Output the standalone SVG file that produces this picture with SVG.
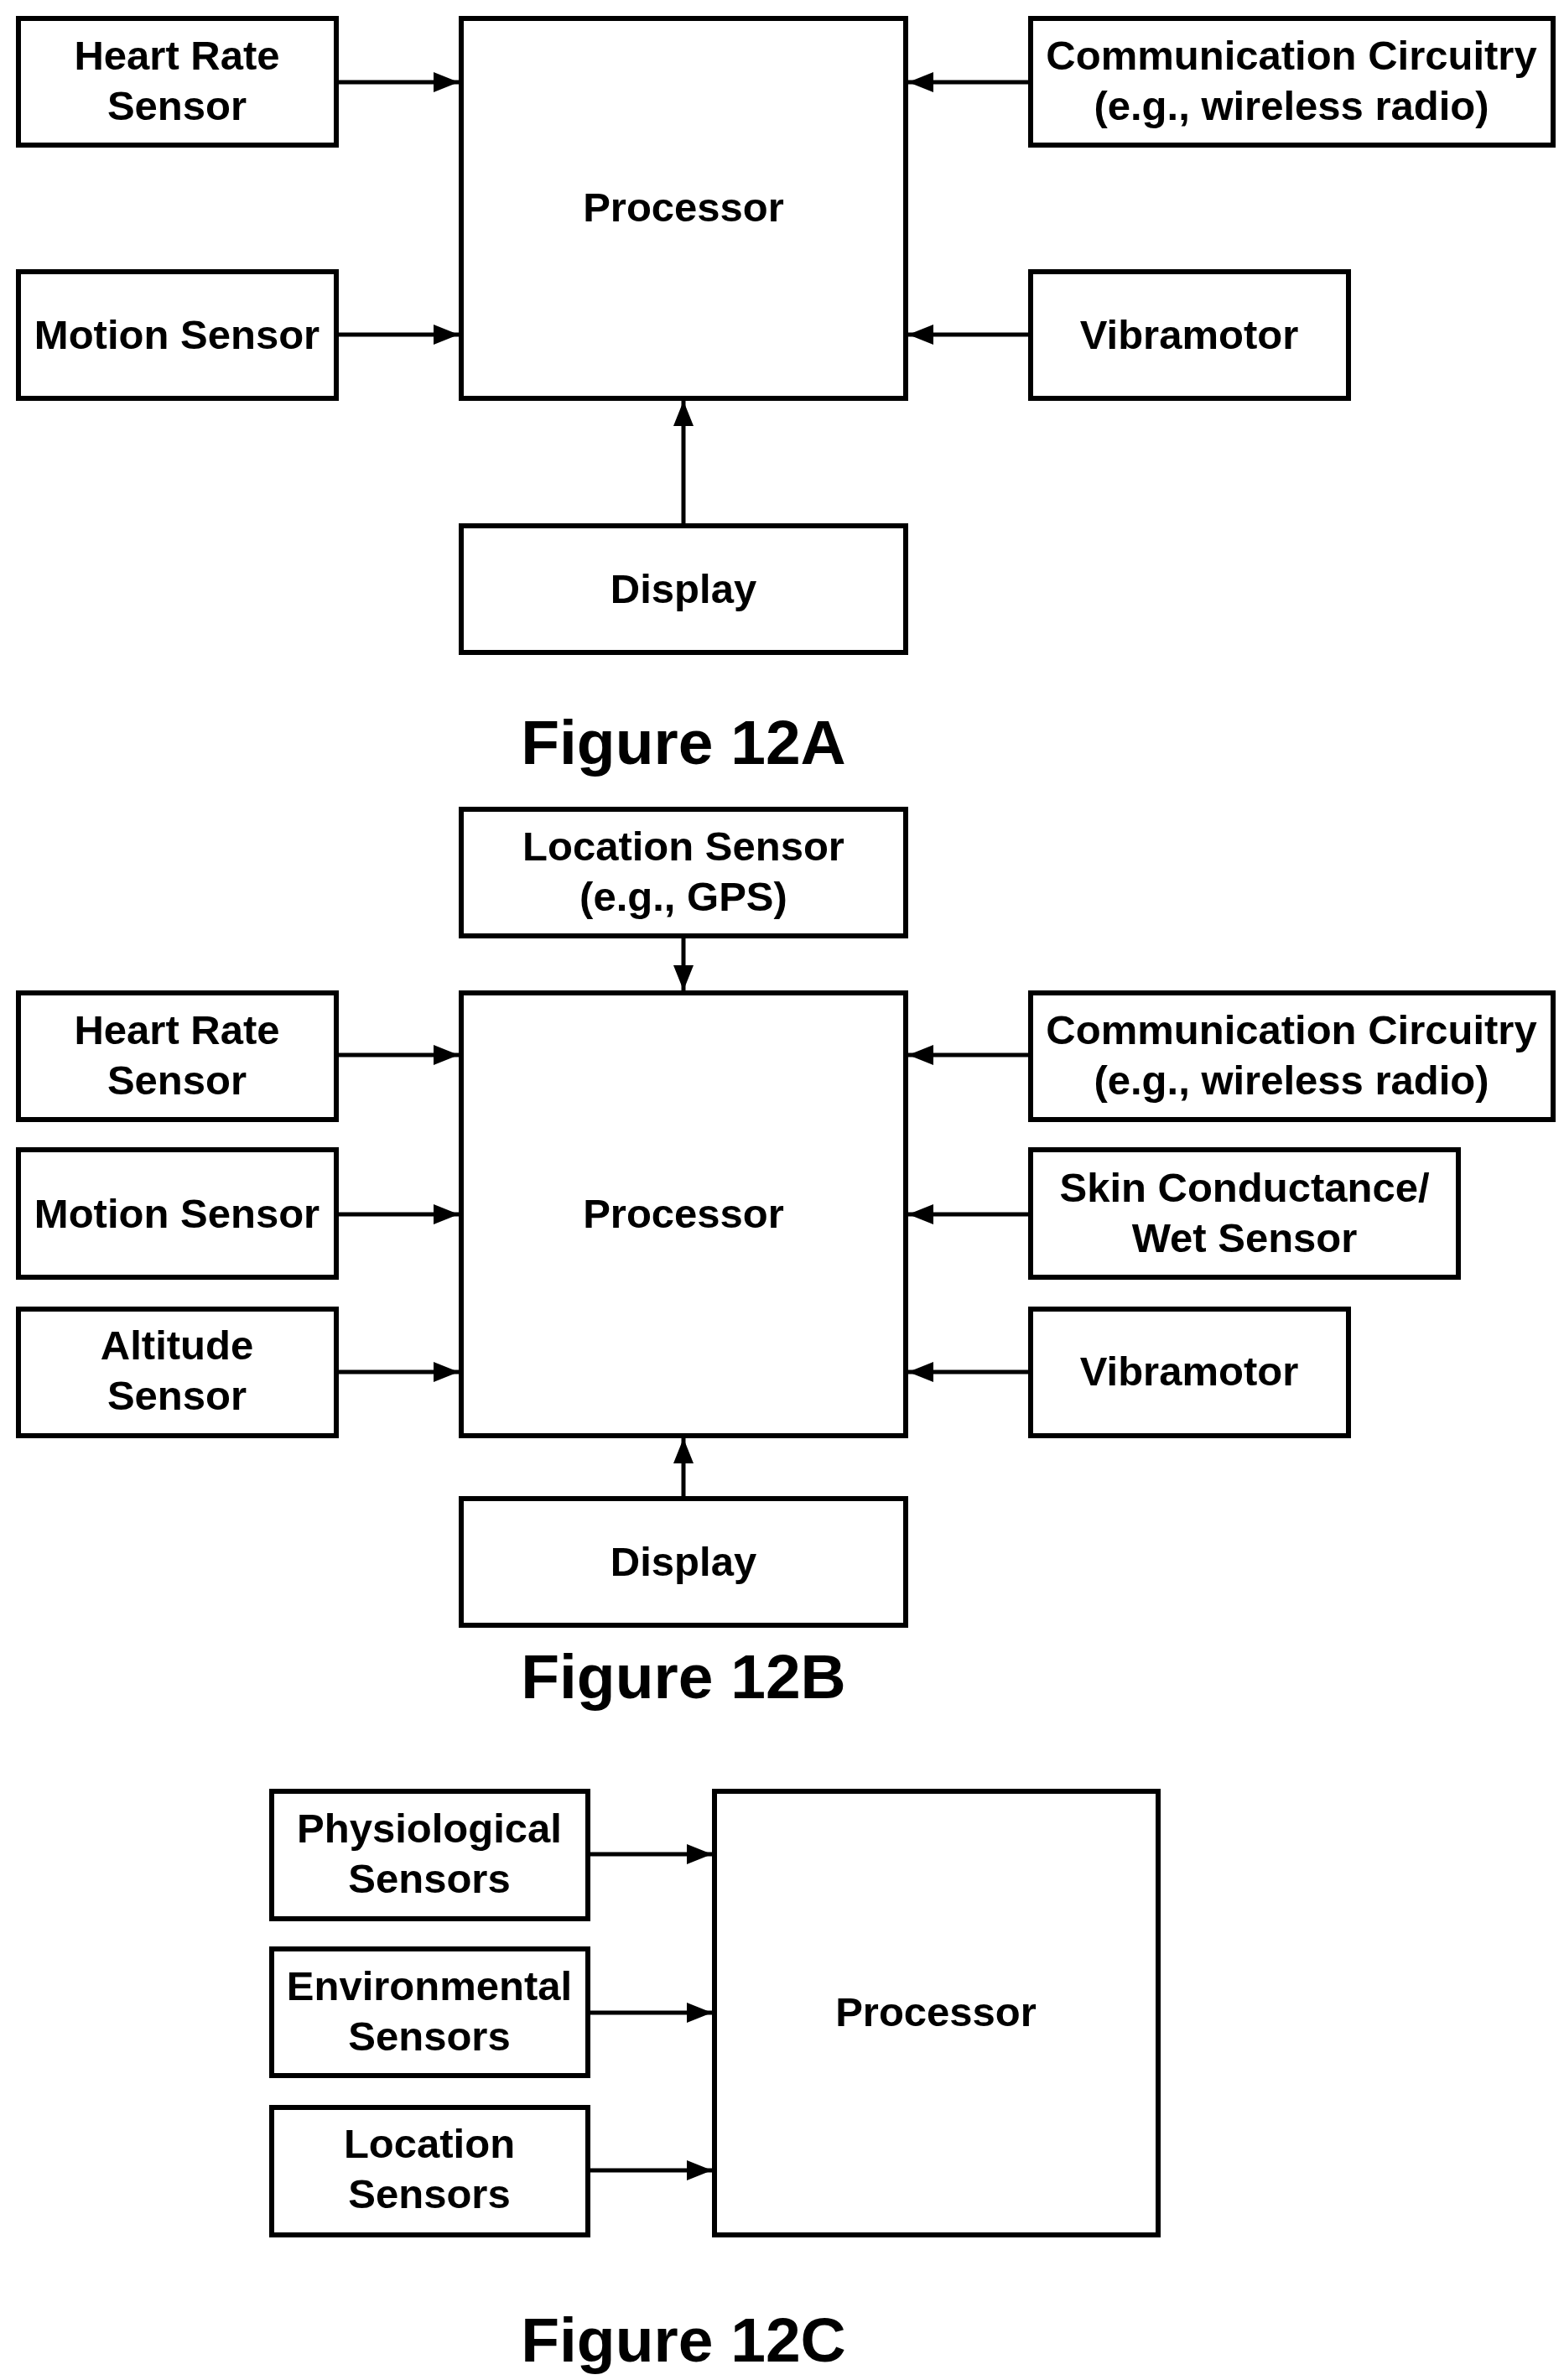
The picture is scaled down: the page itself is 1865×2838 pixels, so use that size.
<svg xmlns="http://www.w3.org/2000/svg" width="1865" height="2838" viewBox="0 0 1865 2838">
<style>
rect{fill:#fff;stroke:#000;stroke-width:6}
text{font-family:"Liberation Sans",Arial,sans-serif;font-weight:bold;font-size:49px;text-anchor:middle}
.fig{font-size:75px}
.c line{stroke:#000;stroke-width:5;marker-end:url(#a)}
</style>
<defs><marker id="a" markerUnits="userSpaceOnUse" markerWidth="30" markerHeight="24" refX="30" refY="12" orient="auto"><path d="M0,0L30,12L0,24z"/></marker></defs>
<rect x="0" y="0" width="1865" height="2838" style="stroke:none"/>
<g id="a_hr"><rect x="22" y="22" width="379" height="151"/><text x="211" y="83">Heart Rate</text><text x="211" y="143">Sensor</text></g>
<g id="a_proc"><rect x="550" y="22" width="530" height="453"/><text x="815" y="264">Processor</text></g>
<g id="a_comm"><rect x="1229" y="22" width="623" height="151"/><text x="1540" y="83">Communication Circuitry</text><text x="1540" y="143">(e.g., wireless radio)</text></g>
<g id="a_motion"><rect x="22" y="324" width="379" height="151"/><text x="211" y="416">Motion Sensor</text></g>
<g id="a_vib"><rect x="1229" y="324" width="379" height="151"/><text x="1418" y="416">Vibramotor</text></g>
<g id="a_disp"><rect x="550" y="627" width="530" height="151"/><text x="815" y="719">Display</text></g>
<text class="fig" x="815" y="911">Figure 12A</text>

<g id="b_loc"><rect x="550" y="965" width="530" height="151"/><text x="815" y="1026">Location Sensor</text><text x="815" y="1086">(e.g., GPS)</text></g>
<g id="b_proc"><rect x="550" y="1184" width="530" height="528"/><text x="815" y="1464">Processor</text></g>
<g id="b_hr"><rect x="22" y="1184" width="379" height="151"/><text x="211" y="1245">Heart Rate</text><text x="211" y="1305">Sensor</text></g>
<g id="b_motion"><rect x="22" y="1371" width="379" height="152"/><text x="211" y="1464">Motion Sensor</text></g>
<g id="b_alt"><rect x="22" y="1561" width="379" height="151"/><text x="211" y="1621">Altitude</text><text x="211" y="1681">Sensor</text></g>
<g id="b_comm"><rect x="1229" y="1184" width="623" height="151"/><text x="1540" y="1245">Communication Circuitry</text><text x="1540" y="1305">(e.g., wireless radio)</text></g>
<g id="b_skin"><rect x="1229" y="1371" width="510" height="152"/><text x="1484" y="1433">Skin Conductance/</text><text x="1484" y="1493">Wet Sensor</text></g>
<g id="b_vib"><rect x="1229" y="1561" width="379" height="151"/><text x="1418" y="1652">Vibramotor</text></g>
<g id="b_disp"><rect x="550" y="1787" width="530" height="151"/><text x="815" y="1879">Display</text></g>
<text class="fig" x="815" y="2025">Figure 12B</text>

<g id="c_phys"><rect x="324" y="2136" width="377" height="152"/><text x="512" y="2197">Physiological</text><text x="512" y="2257">Sensors</text></g>
<g id="c_env"><rect x="324" y="2324" width="377" height="151"/><text x="512" y="2385">Environmental</text><text x="512" y="2445">Sensors</text></g>
<g id="c_loc"><rect x="324" y="2513" width="377" height="152"/><text x="512" y="2573">Location</text><text x="512" y="2633">Sensors</text></g>
<g id="c_proc"><rect x="852" y="2136" width="529" height="529"/><text x="1116" y="2416">Processor</text></g>
<text class="fig" x="815" y="2816">Figure 12C</text>

<g class="c" id="connectors">
<line x1="401" y1="98" x2="547" y2="98"/>
<line x1="401" y1="399" x2="547" y2="399"/>
<line x1="1229" y1="98" x2="1083" y2="98"/>
<line x1="1229" y1="399" x2="1083" y2="399"/>
<line x1="815" y1="627" x2="815" y2="478"/>
<line x1="815" y1="1116" x2="815" y2="1181"/>
<line x1="401" y1="1258" x2="547" y2="1258"/>
<line x1="401" y1="1448" x2="547" y2="1448"/>
<line x1="401" y1="1636" x2="547" y2="1636"/>
<line x1="1229" y1="1258" x2="1083" y2="1258"/>
<line x1="1229" y1="1448" x2="1083" y2="1448"/>
<line x1="1229" y1="1636" x2="1083" y2="1636"/>
<line x1="815" y1="1787" x2="815" y2="1715"/>
<line x1="701" y1="2211" x2="849" y2="2211"/>
<line x1="701" y1="2400" x2="849" y2="2400"/>
<line x1="701" y1="2588" x2="849" y2="2588"/>
</g>
</svg>
